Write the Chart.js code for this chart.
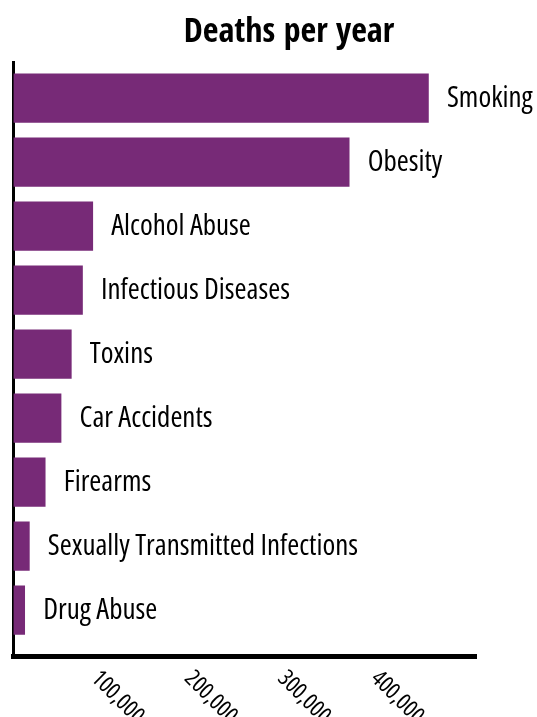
<!DOCTYPE html>
<html><head><meta charset="utf-8">
<script src="https://cdn.jsdelivr.net/npm/chart.js@4"></script>
<style>html,body{margin:0;padding:0;background:#fff}canvas{display:block}</style>
</head><body>
<canvas id="c" width="537" height="717"></canvas>
<script>
const chartTitle = "Deaths per year";
const categories = ["Smoking","Obesity","Alcohol Abuse","Infectious Diseases","Toxins","Car Accidents","Firearms","Sexually Transmitted Infections","Drug Abuse"];
const deaths = [445000, 360000, 85000, 74000, 62000, 51000, 34000, 17000, 12000];
const tickValues = [100000, 200000, 300000, 400000];
const xMax = 496000;

const BAR = '#772a77';

const drawText = {
  id: 'drawText',
  afterDraw(chart) {
    const ctx = chart.ctx;
    // title
    ctx.save();
    ctx.fillStyle = '#000';
    ctx.font = "bold 34px 'Open Sans Condensed', 'Open Sans'";
    ctx.textAlign = 'center';
    ctx.textBaseline = 'alphabetic';
    ctx.fillText(chartTitle, 289, 42);
    ctx.restore();

    // bar labels
    const meta = chart.getDatasetMeta(0);
    ctx.save();
    ctx.fillStyle = '#000';
    ctx.font = "500 29px 'Open Sans'";
    ctx.fontStretch = 'condensed';
    ctx.textAlign = 'left';
    ctx.textBaseline = 'alphabetic';
    meta.data.forEach((bar, i) => {
      ctx.fillText(categories[i], bar.x + 18.5, bar.y + 8.5);
    });
    ctx.restore();

    // x tick labels (rotated)
    const xs = chart.scales.x;
    ctx.save();
    ctx.fillStyle = '#000';
    ctx.font = "500 23px 'Open Sans'";
    ctx.fontStretch = 'condensed';
    ctx.textAlign = 'left';
    ctx.textBaseline = 'alphabetic';
    xs.ticks.forEach(t => {
      const px = xs.getPixelForValue(t.value);
      ctx.save();
      ctx.translate(px - 16.5, 679.5);
      ctx.rotate(Math.PI / 4);
      ctx.fillText(t.value.toLocaleString('en-US'), 0, 0);
      ctx.restore();
    });
    ctx.restore();
  }
};

new Chart(document.getElementById('c'), {
  type: 'bar',
  data: {
    labels: categories,
    datasets: [{
      data: deaths,
      backgroundColor: BAR,
      borderWidth: 0,
      barThickness: 48.5
    }]
  },
  options: {
    indexAxis: 'y',
    responsive: false,
    animation: false,
    devicePixelRatio: 1,
    layout: { padding: { left: 13.5, right: 61, top: 62.5, bottom: 60.5 } },
    plugins: { legend: { display: false }, title: { display: false }, tooltip: { enabled: false } },
    scales: {
      x: {
        type: 'linear', min: 0, max: xMax,
        grid: { display: false, drawTicks: false },
        border: { display: true, width: 5, color: '#000' },
        ticks: { display: false },
        afterBuildTicks: s => { s.ticks = tickValues.map(v => ({ value: v })); }
      },
      y: {
        type: 'category', offset: true,
        grid: { display: false, drawTicks: false },
        border: { display: true, width: 3, color: '#000' },
        ticks: { display: false },
        afterBuildTicks: s => { s._startValue = -0.5578; s._valueRange = 594 / 64; }
      }
    }
  },
  plugins: [drawText]
});
</script>
</body></html>
